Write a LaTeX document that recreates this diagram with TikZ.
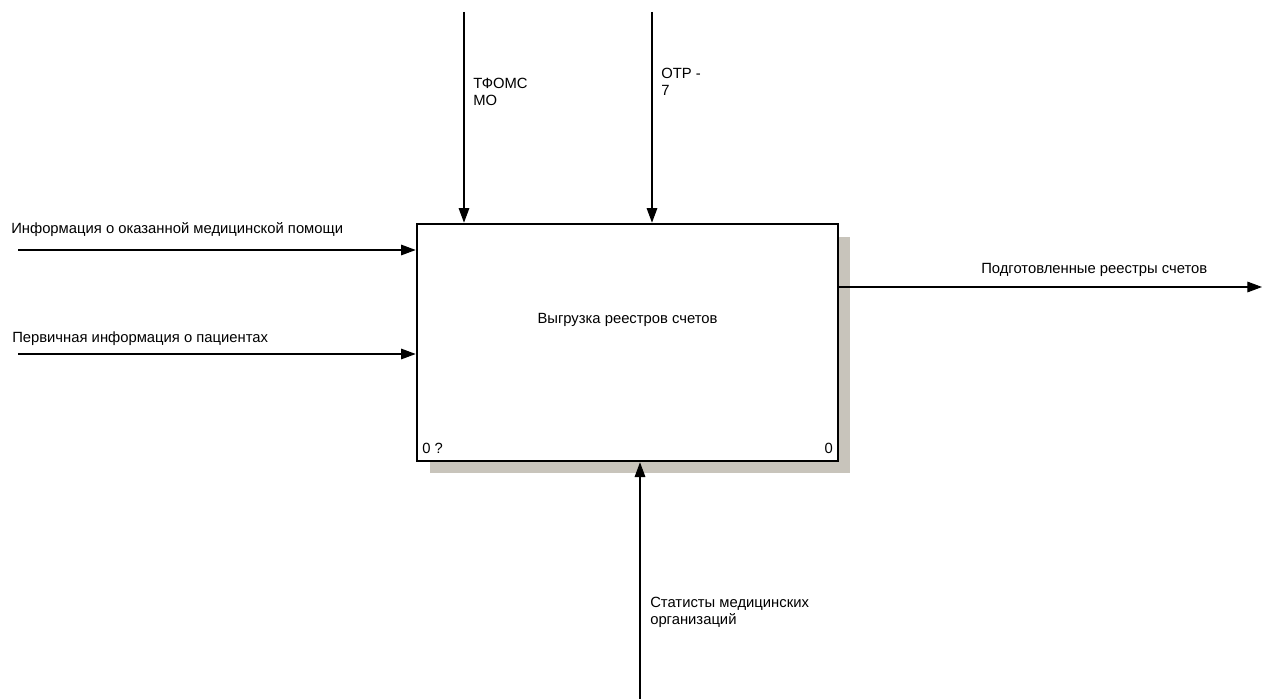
\documentclass[tikz,border=0pt]{standalone}
\usepackage{fontspec}
\setmainfont{Liberation Sans}
\usetikzlibrary{arrows.meta}

\begin{document}
\begin{tikzpicture}[
      x=0.75pt, y=-0.75pt,
      box_style/.style={draw, black, line width=2pt, minimum width=315.75pt, minimum height=177.75pt, inner sep=0pt},
      shadow_style/.style={fill={rgb,255:red,200;green,196;blue,187}},
      arrow_style/.style={draw, black, line width=0.8pt, -{Triangle[length=11pt, width=8pt]}},
      label_style/.style={font=\fontsize{11.1}{12.5}\selectfont, inner sep=0pt, align=left}
  ]
      \useasboundingbox (0,0) rectangle (1262,699);

      % shadow and activity box
      \fill[shadow_style] (839,237) rectangle (850,473);
      \fill[shadow_style] (430,462) rectangle (850,473);
      \node[box_style] (upload) at (627.5,342.5) {};
      \node[label_style, anchor=base] (upload_name) at (627.5,323) {Выгрузка реестров счетов};
      \node[label_style, anchor=base west] (upload_num) at (422,453) {0 ?};
      \node[label_style, anchor=base east] (upload_node) at (833,453) {0};

      % inputs
      \coordinate (in_care) at (18,250);
      \coordinate (in_patient) at (18,354);
      \draw[arrow_style] (in_care) -- (in_care -| upload.west);
      \draw[arrow_style] (in_patient) -- (in_patient -| upload.west);
      \node[label_style, anchor=base west] (in_care_label) at (11,233) {Информация о оказанной медицинской помощи};
      \node[label_style, anchor=base west] (in_patient_label) at (12,342) {Первичная информация о пациентах};

      % controls
      \coordinate (ctl_tfoms) at (464,12);
      \coordinate (ctl_otr) at (652,12);
      \draw[arrow_style] (ctl_tfoms) -- (ctl_tfoms |- upload.north);
      \draw[arrow_style] (ctl_otr) -- (ctl_otr |- upload.north);
      \node[label_style, anchor=north west] (ctl_tfoms_label) at (473,78) {ТФОМС\\МО};
      \node[label_style, anchor=north west] (ctl_otr_label) at (661,68) {ОТР -\\7};

      % output
      \coordinate (out_reg) at (1262,287);
      \draw[arrow_style] (upload.east |- out_reg) -- (out_reg);
      \node[label_style, anchor=base west] (out_reg_label) at (981,273) {Подготовленные реестры счетов};

      % mechanism
      \coordinate (mech_stat) at (640,699);
      \draw[arrow_style] (mech_stat) -- (mech_stat |- upload.south);
      \node[label_style, anchor=north west] (mech_stat_label) at (650,597) {Статисты медицинских\\организаций};
  \end{tikzpicture}
\end{document}
